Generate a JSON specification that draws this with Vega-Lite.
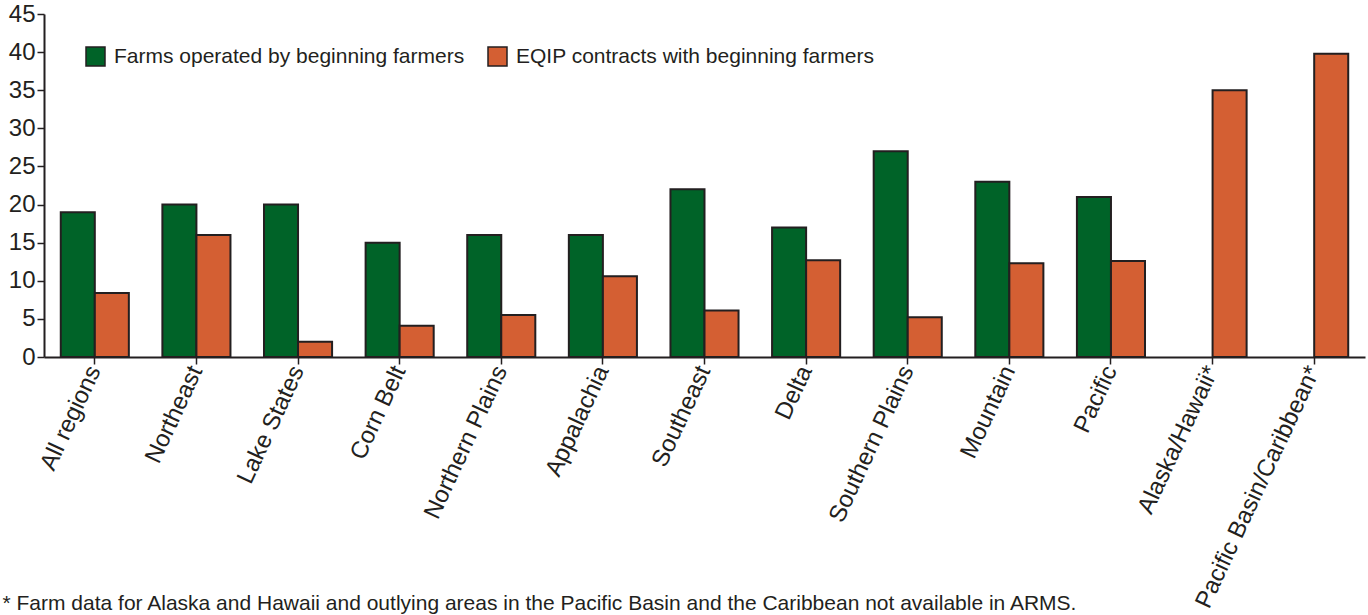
{
  "$schema": "https://vega.github.io/schema/vega-lite/v6.json",
  "autosize": {"type": "none"},
  "width": 1321,
  "height": 343,
  "padding": {"left": 44, "top": 14, "right": 3, "bottom": 258},
  "background": "white",
  "config": {
    "view": {"stroke": null},
    "font": "Liberation Sans",
    "axis": {"labelFont": "Liberation Sans", "labelColor": "#231f20", "domainColor": "#231f20", "tickColor": "#231f20", "grid": false}
  },
  "data": {
    "values": [
      {"region": "All regions", "series": "Farms operated by beginning farmers", "value": 19},
      {"region": "All regions", "series": "EQIP contracts with beginning farmers", "value": 8.4},
      {"region": "Northeast", "series": "Farms operated by beginning farmers", "value": 20},
      {"region": "Northeast", "series": "EQIP contracts with beginning farmers", "value": 16},
      {"region": "Lake States", "series": "Farms operated by beginning farmers", "value": 20},
      {"region": "Lake States", "series": "EQIP contracts with beginning farmers", "value": 2},
      {"region": "Corn Belt", "series": "Farms operated by beginning farmers", "value": 15},
      {"region": "Corn Belt", "series": "EQIP contracts with beginning farmers", "value": 4.1},
      {"region": "Northern Plains", "series": "Farms operated by beginning farmers", "value": 16},
      {"region": "Northern Plains", "series": "EQIP contracts with beginning farmers", "value": 5.5},
      {"region": "Appalachia", "series": "Farms operated by beginning farmers", "value": 16},
      {"region": "Appalachia", "series": "EQIP contracts with beginning farmers", "value": 10.6},
      {"region": "Southeast", "series": "Farms operated by beginning farmers", "value": 22},
      {"region": "Southeast", "series": "EQIP contracts with beginning farmers", "value": 6.1},
      {"region": "Delta", "series": "Farms operated by beginning farmers", "value": 17},
      {"region": "Delta", "series": "EQIP contracts with beginning farmers", "value": 12.7},
      {"region": "Southern Plains", "series": "Farms operated by beginning farmers", "value": 27},
      {"region": "Southern Plains", "series": "EQIP contracts with beginning farmers", "value": 5.2},
      {"region": "Mountain", "series": "Farms operated by beginning farmers", "value": 23},
      {"region": "Mountain", "series": "EQIP contracts with beginning farmers", "value": 12.3},
      {"region": "Pacific", "series": "Farms operated by beginning farmers", "value": 21},
      {"region": "Pacific", "series": "EQIP contracts with beginning farmers", "value": 12.6},
      {"region": "Alaska/Hawaii*", "series": "EQIP contracts with beginning farmers", "value": 35},
      {"region": "Pacific Basin/Caribbean*", "series": "EQIP contracts with beginning farmers", "value": 39.8}
    ]
  },
  "mark": {"type": "bar", "stroke": "#231f20", "strokeWidth": 2},
  "encoding": {
    "x": {
      "field": "region",
      "type": "nominal",
      "sort": ["All regions", "Northeast", "Lake States", "Corn Belt", "Northern Plains", "Appalachia", "Southeast", "Delta", "Southern Plains", "Mountain", "Pacific", "Alaska/Hawaii*", "Pacific Basin/Caribbean*"],
      "scale": {"paddingInner": 0.33, "paddingOuter": 0.165},
      "axis": {
        "title": "* Farm data for Alaska and Hawaii and outlying areas in the Pacific Basin and the Caribbean not available in ARMS.",
        "titleX": -42,
        "titleY": 252,
        "titleAlign": "left",
        "titleBaseline": "alphabetic",
        "titleAnchor": "start",
        "titleFont": "Liberation Sans",
        "titleFontWeight": "normal",
        "titleFontSize": 21,
        "titleColor": "#231f20",
        "labelAngle": -65,
        "labelAlign": "right",
        "labelBaseline": "middle",
        "labelFontSize": 24,
        "labelPadding": 3,
        "tickSize": 7,
        "domainWidth": 2,
        "tickWidth": 1.5,
        "labelOverlap": false,
        "labelLimit": 400
      }
    },
    "xOffset": {
      "field": "series",
      "type": "nominal",
      "sort": ["Farms operated by beginning farmers", "EQIP contracts with beginning farmers"]
    },
    "y": {
      "field": "value",
      "type": "quantitative",
      "scale": {"domain": [0, 45], "nice": false},
      "axis": {
        "title": null,
        "values": [0, 5, 10, 15, 20, 25, 30, 35, 40, 45],
        "labelFontSize": 24,
        "tickSize": 7,
        "labelPadding": 2,
        "domainWidth": 2,
        "tickWidth": 1.5
      }
    },
    "color": {
      "field": "series",
      "type": "nominal",
      "sort": ["Farms operated by beginning farmers", "EQIP contracts with beginning farmers"],
      "scale": {"domain": ["Farms operated by beginning farmers", "EQIP contracts with beginning farmers"], "range": ["#006328", "#d45f33"]},
      "legend": {
        "title": null,
        "orient": "none",
        "legendX": 41,
        "legendY": 32,
        "direction": "horizontal",
        "symbolType": "square",
        "symbolSize": 361,
        "symbolStrokeColor": "#231f20",
        "symbolStrokeWidth": 1.5,
        "symbolOpacity": 1,
        "labelFontSize": 21,
        "labelColor": "#231f20",
        "labelFont": "Liberation Sans",
        "labelOffset": 8,
        "columnPadding": 20,
        "labelLimit": 500
      }
    }
  }
}
